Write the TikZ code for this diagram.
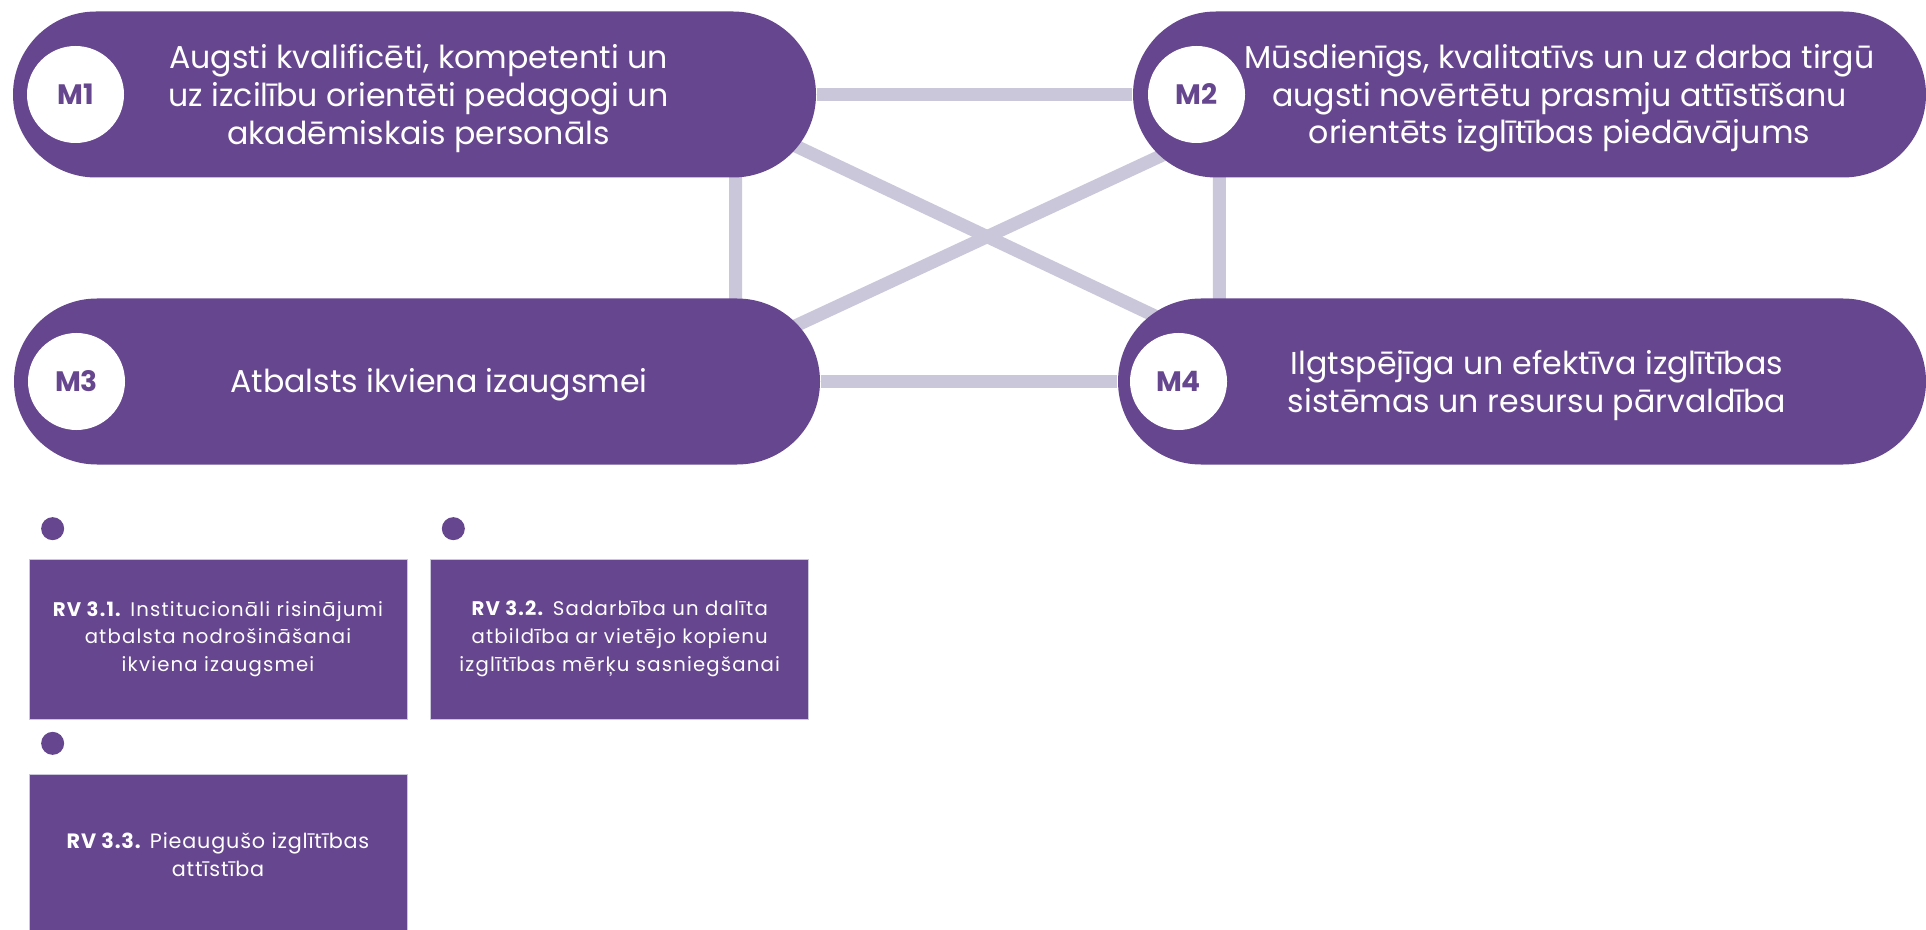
\documentclass[tikz,border=0pt]{standalone}
\usepackage{fontspec}
\setmainfont{Poppins}
\newfontfamily\rvfont[LetterSpace=6]{Poppins}
\newfontfamily\rvwidefont[LetterSpace=4]{Poppins}
\usepackage{tikz}
\usetikzlibrary{positioning,backgrounds}
\definecolor{mpurple}{RGB}{102,70,142}
\definecolor{mlink}{RGB}{203,199,218}
\tikzset{
    %Define style for the goal pills
    pill/.style={
           rectangle,
           rounded corners=0.83cm,
           fill=mpurple,
           minimum height=1.66cm},
    %Define style for the pill texts
    pilltext/.style={
           text=white,
           align=center,
           inner sep=0pt,
           font=\fontsize{9}{10.7}\selectfont},
    %Define style for the white circles
    mcirc/.style={
           circle,
           fill=white,
           minimum size=0.97cm,
           inner sep=0pt,
           text=mpurple,
           font=\fontsize{8}{9}\selectfont\bfseries},
    %Define style for the direction boxes
    rvbox/.style={
           rectangle,
           fill=mpurple,
           draw=mlink, line width=0.2pt,
           text=white,
           minimum width=3.78cm,
           minimum height=1.6cm,
           align=center,
           font=\rvfont\fontsize{5.6}{7.9}\selectfont},
    rvdot/.style={
           circle,
           fill=mpurple,
           minimum size=0.23cm,
           inner sep=0pt},
    % Define link style
    link/.style={
           draw=mlink,
           line width=0.13cm}
}
\begin{document}
\begin{tikzpicture}
  \useasboundingbox (0,0) rectangle (19.26,-9.30);
  \clip (0,0) rectangle (19.26,-9.30);

  \node[pill, minimum width=8.03cm] (m1) at (4.145,-0.945) {};
  \node[pill, minimum width=7.93cm] (m2) at (15.295,-0.945) {};
  \node[pill, minimum width=8.06cm] (m3) at (4.17,-3.815) {};
  \node[pill, minimum width=8.08cm] (m4) at (15.22,-3.815) {};

  \node[mcirc, right=0.14cm of m1.west] (c1) {M1};
  \node[mcirc, right=0.15cm of m2.west] (c2) {M2};
  \node[mcirc, right=0.14cm of m3.west] (c3) {M3};
  \node[mcirc, right=0.12cm of m4.west] (c4) {M4};

  \node[pilltext] (t1) at ([xshift=0.04cm,yshift=-0.04cm]m1.center)
       {Augsti kvalificēti, kompetenti un\\uz izcilību orientēti pedagogi un\\akadēmiskais personāls};
  \node[pilltext] (t2) at ([xshift=0.3cm,yshift=-0.04cm]m2.center)
       {Mūsdienīgs, kvalitatīvs un uz darba tirgū\\augsti novērtētu prasmju attīstīšanu\\orientēts izglītības piedāvājums};
  \node[pilltext] (t3) at ([xshift=0.22cm,yshift=-0.03cm]m3.center)
       {Atbalsts ikviena izaugsmei};
  \node[pilltext] (t4) at ([xshift=0.15cm,yshift=-0.04cm]m4.center)
       {Ilgtspējīga un efektīva izglītības\\sistēmas un resursu pārvaldība};

  \begin{pgfonlayer}{background}
    \draw[link] (m1.east) -- (m2.west);
    \draw[link] (m3.east) -- (m4.west);
    \draw[link] ([xshift=-0.81cm]m1.east) -- ([xshift=-0.85cm]m3.east);
    \draw[link] ([xshift=0.87cm]m2.west) -- ([xshift=1.02cm]m4.west);
    \draw[link] ([xshift=-0.56cm,yshift=-0.35cm]m1.east) -- ([xshift=0.82cm,yshift=0.445cm]m4.west);
    \draw[link] ([xshift=-0.6cm,yshift=0.395cm]m3.east) -- ([xshift=0.67cm,yshift=-0.435cm]m2.west);
  \end{pgfonlayer}

  \node[rvbox] (rv1) at (2.18,-6.39)
       {\textbf{RV 3.1.} Institucionāli risinājumi\\atbalsta nodrošināšanai\\ikviena izaugsmei};
  \node[rvbox, right=0.23cm of rv1] (rv2)
       {\textbf{RV 3.2.} Sadarbība un dalīta\\atbildība ar vietējo kopienu\\izglītības mērķu sasniegšanai};
  \node[rvbox, below=0.55cm of rv1, font=\rvwidefont\fontsize{5.9}{7.9}\selectfont] (rv3)
       {\textbf{RV 3.3.} Pieaugušo izglītības\\attīstība};

  \node[rvdot] (d1) at ([xshift=0.24cm,yshift=0.3cm]rv1.north west) {};
  \node[rvdot] (d2) at ([xshift=0.23cm,yshift=0.3cm]rv2.north west) {};
  \node[rvdot] (d3) at ([xshift=0.24cm,yshift=0.31cm]rv3.north west) {};
\end{tikzpicture}
\end{document}
